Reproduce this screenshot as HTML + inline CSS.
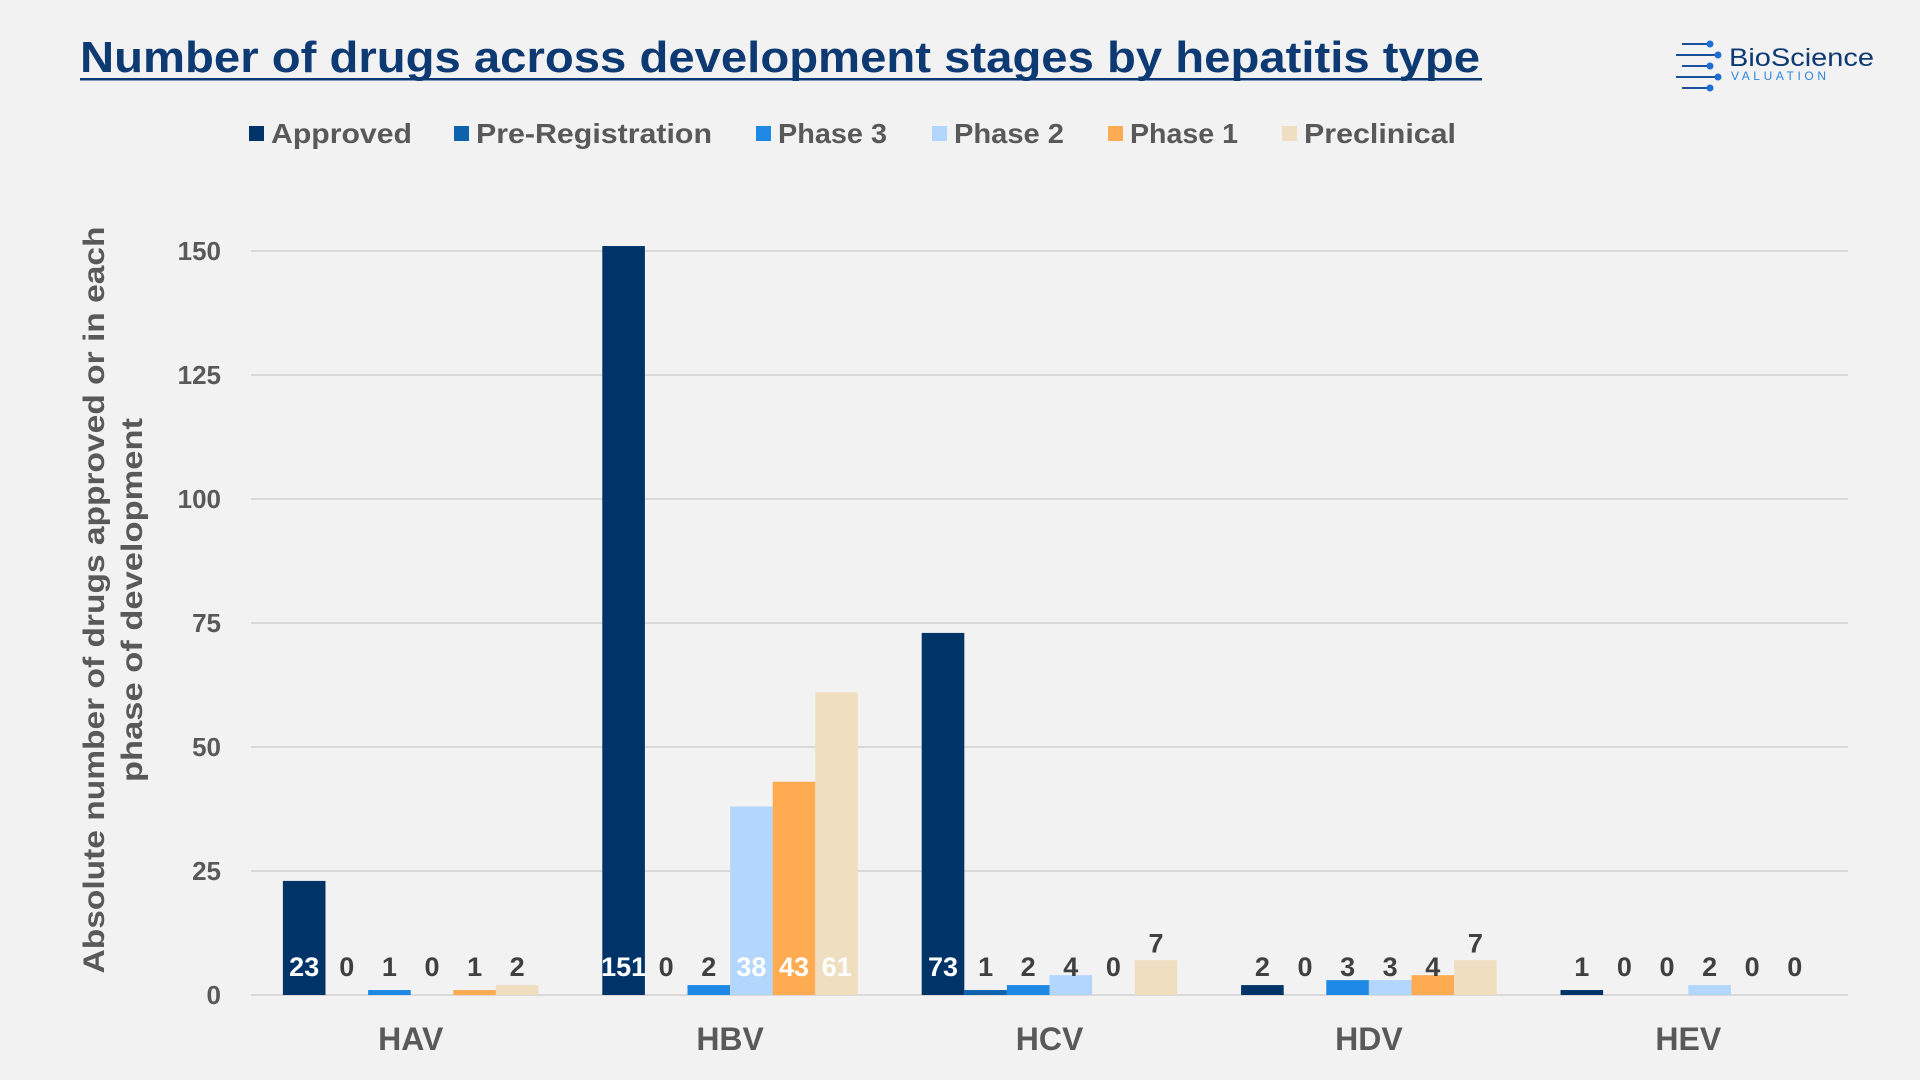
<!DOCTYPE html>
<html><head><meta charset="utf-8"><style>
body{margin:0;background:#f2f2f2;font-family:"Liberation Sans",sans-serif;}
#wrap{position:relative;width:1920px;height:1080px;overflow:hidden;background:#f2f2f2}
</style></head><body>
<div id="wrap">
<svg id="chart" width="1920" height="1080"></svg>
</div>
<script>
const categories=["HAV","HBV","HCV","HDV","HEV"];
const seriesNames=["Approved","Pre-Registration","Phase 3","Phase 2","Phase 1","Preclinical"];
const approved=[23,151,73,2,1];
const preRegistration=[0,0,1,0,0];
const phase3=[1,2,2,3,0];
const phase2=[0,38,4,3,2];
const phase1=[1,43,0,4,0];
const preclinical=[2,61,7,7,0];
const yTicks=[0,25,50,75,100,125,150];
const series=[approved,preRegistration,phase3,phase2,phase1,preclinical];
const colors=["#003468","#0d62ad","#1e88e5","#b3d6fd","#ffab52","#f0dec0"];
const svg=document.getElementById('chart');
const NS="http://www.w3.org/2000/svg";
function mk(t,a,txt){const e=document.createElementNS(NS,t);for(const k in a)e.setAttribute(k,a[k]);if(txt!==undefined)e.textContent=txt;svg.appendChild(e);return e;}
const x0=251,x1=1848,yBase=995,yTop=251,maxV=150;
function y(v){return yBase-(v/maxV)*(yBase-yTop);}
const gw=(x1-x0)/categories.length,bw=42.6,pad=(gw-bw*6)/2;
function gx(i){return x0+i*gw;}
// title
let t=mk('text',{x:80,y:72,'font-size':44,'font-weight':'bold',fill:'#0d3a73',textLength:1400,lengthAdjust:'spacingAndGlyphs'},'Number of drugs across development stages by hepatitis type');

let ul=mk('rect',{x:80,y:78,width:1402,height:2.5,fill:'#0d3a73'});

// logo
const logo=[[1682,44,1710,44],[1676,55,1718,55],[1682,66,1710,66],[1676,77,1718,77],[1682,88,1710,88]];
logo.forEach(l=>{let e=mk('line',{x1:l[0],y1:l[1],x2:l[2],y2:l[3],stroke:'#1a4f9c','stroke-width':2});
 let c=mk('circle',{cx:l[2],cy:l[3],r:3.5,fill:'#1e6fd0'});});
let lt=mk('text',{x:1729,y:66,'font-size':25,fill:'#0d3a73',textLength:145,lengthAdjust:'spacingAndGlyphs'},'BioScience');
let lt2=mk('text',{x:1731,y:80,'font-size':12,fill:'#2a86e0',textLength:95,lengthAdjust:'spacing'},'VALUATION');
// legend
const legX=[249,454,756,932,1108,1282];
const legW=[141,236,109,110,108,152];
seriesNames.forEach((n,i)=>{let r=mk('rect',{x:legX[i],y:126,width:15,height:15,fill:colors[i]});
 let tx=mk('text',{x:legX[i]+22,y:143,'font-size':28,'font-weight':'bold',fill:'#595959',textLength:legW[i],lengthAdjust:'spacingAndGlyphs'},n);});
// grid and ticks
yTicks.forEach(v=>{let g=mk('line',{x1:x0,x2:x1,y1:y(v),y2:y(v),stroke:'#d9d9d9','stroke-width':2});
 let tl=mk('text',{x:221,y:y(v)+9,'text-anchor':'end','font-size':26,'font-weight':'bold',fill:'#595959'},v);});
// y title
let yt=mk('text',{transform:'translate(104,600) rotate(-90)','text-anchor':'middle','font-size':30,'font-weight':'bold',fill:'#595959'});

[['Absolute number of drugs approved or in each',747],['phase of development',364]].forEach((s,i)=>{const ts=document.createElementNS(NS,'tspan');ts.setAttribute('x',0);ts.setAttribute('dy',i?38:0);ts.setAttribute('textLength',s[1]);ts.setAttribute('lengthAdjust','spacingAndGlyphs');ts.textContent=s[0];yt.appendChild(ts);});
// bars
categories.forEach((c,ci)=>{
 series.forEach((arr,si)=>{const v=arr[ci];const bx=gx(ci)+pad+si*bw;
  if(v>0){let b=mk('rect',{x:bx,y:y(v),width:bw,height:yBase-y(v),fill:colors[si]});}
  let ly=976; if(v>=5&&v<20) ly=y(v)-8;
  const white=v>=20;
  let l=mk('text',{x:bx+bw/2,y:ly,'text-anchor':'middle','font-size':27,'font-weight':'bold',fill:white?'#ffffff':'#404040'},v);
  
 });
 let xl=mk('text',{x:gx(ci)+gw/2,y:1050,'text-anchor':'middle','font-size':32,'font-weight':'bold',fill:'#595959'},c);
 
});
</script>
</body></html>
